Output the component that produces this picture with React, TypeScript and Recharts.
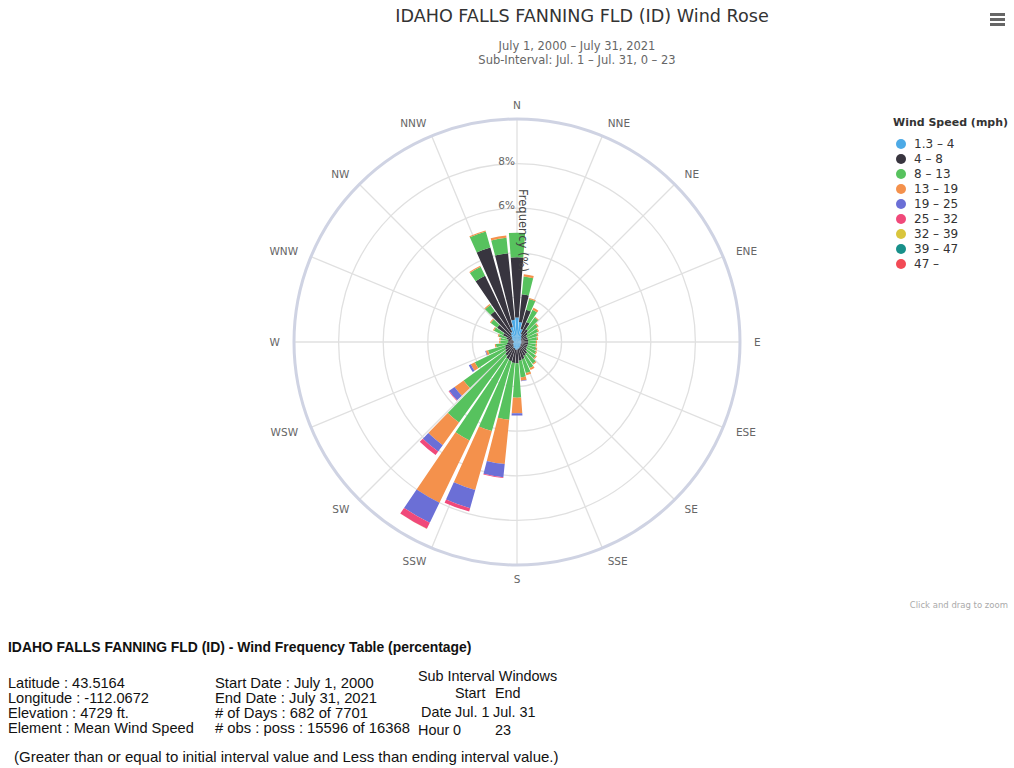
import { RadialBarChart, RadialBar, PolarGrid, PolarAngleAxis, PolarRadiusAxis, Legend } from 'recharts';

// wind directions (degrees), one bar each
const directions = [0, 10, 20, 30, 40, 50, 60, 70, 80, 90, 100, 110, 120, 130, 140, 150, 160, 170,
  180, 190, 200, 210, 220, 230, 240, 250, 260, 270, 280, 290, 300, 310, 320, 330, 340, 350];

const compassTicks = [0, 22.5, 45, 67.5, 90, 112.5, 135, 157.5, 180, 202.5, 225, 247.5, 270, 292.5, 315, 337.5];
const compassLabels = ['N', 'NNE', 'NE', 'ENE', 'E', 'ESE', 'SE', 'SSE', 'S', 'SSW', 'SW', 'WSW', 'W', 'WNW', 'NW', 'NNW'];

const radiusTicks = [0, 2, 4, 6, 8, 10];

const speedBins = ['1.3 – 4', '4 – 8', '8 – 13', '13 – 19', '19 – 25', '25 – 32', '32 – 39', '39 – 47', '47 –'];
const binColors = ['#4daae6', '#38353f', '#57c25e', '#f4914c', '#6b6fd6', '#f0497a', '#d9c53c', '#18908a', '#f24a55'];

// frequency (%) per direction, one array per speed bin
const spd1to4 = [1.1, 0.9, 0.6, 0.4, 0.3, 0.25, 0.2, 0.2, 0.2, 0.2, 0.2, 0.2, 0.2, 0.2, 0.25, 0.25, 0.3, 0.3,
  0.35, 0.35, 0.3, 0.3, 0.25, 0.2, 0.2, 0.2, 0.15, 0.15, 0.15, 0.2, 0.25, 0.3, 0.4, 0.5, 0.7, 1.0];
const spd4to8 = [2.7, 1.25, 0.9, 0.6, 0.4, 0.35, 0.3, 0.3, 0.3, 0.3, 0.3, 0.3, 0.3, 0.35, 0.4, 0.45, 0.5, 0.55,
  0.6, 0.6, 0.6, 0.55, 0.5, 0.45, 0.4, 0.35, 0.3, 0.25, 0.25, 0.3, 0.45, 0.8, 1.3, 2.8, 3.7, 3.0];
const spd8to13 = [1.1, 0.8, 0.5, 0.6, 0.65, 0.55, 0.55, 0.45, 0.4, 0.35, 0.35, 0.4, 0.45, 0.5, 0.55, 0.6, 0.65, 0.75,
  1.55, 2.55, 3.25, 4.05, 3.7, 2.3, 1.5, 0.8, 0.5, 0.35, 0.35, 0.35, 0.45, 0.35, 0.35, 0.45, 0.75, 0.7];
const spd13to19 = [0, 0.1, 0.05, 0.1, 0.05, 0.05, 0.05, 0.05, 0.05, 0.05, 0.05, 0.05, 0.05, 0.05, 0.05, 0.1, 0.1, 0.15,
  0.7, 2.0, 2.75, 3.1, 1.25, 0.5, 0.2, 0.1, 0.05, 0.05, 0.05, 0.05, 0.05, 0.05, 0.05, 0.05, 0.05, 0.1];
const spd19to25 = [0, 0, 0, 0, 0, 0, 0, 0, 0, 0, 0, 0, 0, 0, 0, 0, 0, 0.02,
  0.1, 0.6, 0.85, 1.0, 0.35, 0.3, 0.1, 0.03, 0, 0, 0, 0, 0, 0, 0, 0, 0, 0];
const spd25to32 = [0, 0, 0, 0, 0, 0, 0, 0, 0, 0, 0, 0, 0, 0, 0, 0, 0, 0,
  0, 0.03, 0.15, 0.3, 0.2, 0.03, 0, 0, 0, 0, 0, 0, 0, 0, 0, 0, 0, 0];
const spd32to39 = [0, 0, 0, 0, 0, 0, 0, 0, 0, 0, 0, 0, 0, 0, 0, 0, 0, 0,
  0, 0, 0, 0.01, 0, 0, 0, 0, 0, 0, 0, 0, 0, 0, 0, 0, 0, 0];
const spd39to47 = [0, 0, 0, 0, 0, 0, 0, 0, 0, 0, 0, 0, 0, 0, 0, 0, 0, 0,
  0, 0, 0, 0, 0, 0, 0, 0, 0, 0, 0, 0, 0, 0, 0, 0, 0, 0];
const spd47up = [0, 0, 0, 0, 0, 0, 0, 0, 0, 0, 0, 0, 0, 0, 0, 0, 0, 0,
  0, 0, 0, 0, 0, 0, 0, 0, 0, 0, 0, 0, 0, 0, 0, 0, 0, 0];

const seriesValues = [spd1to4, spd4to8, spd8to13, spd13to19, spd19to25, spd25to32, spd32to39, spd39to47, spd47up];

const data = directions.map((dir, i) => {
  const row: Record<string, number> = { dir };
  seriesValues.forEach((s, k) => { row[`b${k}`] = s[i]; });
  return row;
});

const chartFont = '"DejaVu Sans", sans-serif';
const tableFont = '"Liberation Sans", sans-serif';

function CompassTick(props: any) {
  const { x, y, payload, textAnchor } = props;
  const idx = compassTicks.indexOf(payload.value);
  return (
    <text x={x} y={y} dy="0.35em" textAnchor={textAnchor} fill="#666" fontSize={10.5} fontFamily={chartFont}>
      {compassLabels[idx]}
    </text>
  );
}

function PercentTick(props: any) {
  const { x, y, payload } = props;
  if (payload.value !== 6 && payload.value !== 8) return <g />;
  return (
    <text x={x - 2} y={y + 1} textAnchor="end" fill="#666" fontSize={10.5} fontFamily={chartFont}>
      {`${payload.value}%`}
    </text>
  );
}

function TitleTick(props: any) {
  const { x, y } = props;
  return (
    <text x={x + 2} y={y} textAnchor="middle" fill="#444" fontSize={11.5} fontFamily={chartFont}
      transform={`rotate(90, ${x + 2}, ${y})`}>
      Frequency (%)
    </text>
  );
}

function WindLegend() {
  return (
    <div style={{ fontFamily: chartFont, color: '#333', fontSize: 12 }}>
      <div style={{ fontWeight: 'bold', fontSize: 11, marginBottom: 7 }}>Wind Speed (mph)</div>
      {speedBins.map((b, i) => (
        <div key={b} style={{ display: 'flex', alignItems: 'center', height: 15, paddingLeft: 3 }}>
          <span style={{ width: 10, height: 10, borderRadius: 5, background: binColors[i], marginRight: 8 }} />
          <span>{b}</span>
        </div>
      ))}
    </div>
  );
}

export default function App() {
  return (
    <div style={{ position: 'absolute', left: 0, top: 0, width: 1014, height: 768, background: '#fff', overflow: 'hidden' }}>
      <div style={{ position: 'absolute', left: 332, top: 6, width: 500, textAlign: 'center', fontFamily: chartFont, fontSize: 17.6, color: '#333' }}>
        IDAHO FALLS FANNING FLD (ID) Wind Rose
      </div>
      <div style={{ position: 'absolute', left: 427, top: 39, width: 300, textAlign: 'center', fontFamily: chartFont, fontSize: 11.5, lineHeight: '14px', color: '#666' }}>
        <div>July 1, 2000 – July 31, 2021</div>
        <div>Sub-Interval: Jul. 1 – Jul. 31, 0 – 23</div>
      </div>
      <div style={{ position: 'absolute', left: 990, top: 13 }}>
        {[0, 1, 2].map((k) => (
          <div key={k} style={{ width: 15, height: 2.5, background: '#666', marginBottom: 2.5 }} />
        ))}
      </div>

      <div style={{ position: 'absolute', left: 0, top: 0 }}>
        <RadialBarChart
          width={1014}
          height={620}
          data={data}
          layout="centric"
          cx={517}
          cy={342}
          innerRadius={0}
          outerRadius={223}
          startAngle={90}
          endAngle={-270}
          barSize={8.5}
          margin={{ top: 0, right: 0, bottom: 0, left: 0 }}
        >
          <PolarGrid gridType="circle" stroke="#e0e0e0" strokeWidth={1.3} />
          <PolarAngleAxis
            dataKey="dir"
            type="number"
            domain={[0, 360]}
            ticks={compassTicks}
            tick={<CompassTick />}
            tickLine={false}
            tickSize={14}
            axisLineType="circle"
            axisLine={{ stroke: '#cfd3e3', strokeWidth: 3 }}
          />
          <PolarRadiusAxis
            type="number"
            domain={[0, 10]}
            ticks={radiusTicks}
            angle={90}
            axisLine={false}
            tickLine={false}
            tick={<PercentTick />}
          />
          {speedBins.map((b, i) => (
            <RadialBar
              key={b}
              dataKey={`b${i}`}
              name={b}
              stackId="wind"
              fill={binColors[i]}
              isAnimationActive={false}
            />
          ))}
          <PolarRadiusAxis
            radiusAxisId="title"
            type="number"
            domain={[0, 10]}
            allowDataOverflow
            ticks={[5]}
            angle={90}
            axisLine={false}
            tickLine={false}
            tick={<TitleTick />}
          />
          <Legend
            content={<WindLegend />}
            layout="vertical"
            align="right"
            verticalAlign="top"
            wrapperStyle={{ top: 116, left: 893, right: 'auto', width: 118 }}
          />
        </RadialBarChart>
      </div>

      <div style={{ position: 'absolute', right: 6, top: 600, fontFamily: chartFont, fontSize: 8.5, color: '#aaa' }}>
        Click and drag to zoom
      </div>

      <div style={{ position: 'absolute', left: 8, top: 639, fontFamily: tableFont, fontSize: 13.9, fontWeight: 'bold', color: '#111' }}>
        IDAHO FALLS FANNING FLD (ID) - Wind Frequency Table (percentage)
      </div>
      <div style={{ position: 'absolute', left: 8, top: 676, fontFamily: tableFont, fontSize: 14.6, lineHeight: '15px', color: '#111' }}>
        <div>Latitude : 43.5164</div>
        <div>Longitude : -112.0672</div>
        <div>Elevation : 4729 ft.</div>
        <div>Element : Mean Wind Speed</div>
      </div>
      <div style={{ position: 'absolute', left: 215, top: 676, fontFamily: tableFont, fontSize: 14.8, lineHeight: '15px', color: '#111' }}>
        <div>Start Date : July 1, 2000</div>
        <div>End Date : July 31, 2021</div>
        <div># of Days : 682 of 7701</div>
        <div># obs : poss : 15596 of 16368</div>
      </div>
      <div style={{ position: 'absolute', left: 418, top: 667, fontFamily: tableFont, fontSize: 14.4, lineHeight: '18px', color: '#111', width: 160, height: 80 }}>
        <div style={{ position: 'absolute', left: 0, top: 0 }}>Sub Interval Windows</div>
        <div style={{ position: 'absolute', left: 37, top: 17 }}>Start</div>
        <div style={{ position: 'absolute', left: 77, top: 17 }}>End</div>
        <div style={{ position: 'absolute', left: 3, top: 36 }}>Date</div>
        <div style={{ position: 'absolute', left: 37, top: 36 }}>Jul. 1</div>
        <div style={{ position: 'absolute', left: 75, top: 36 }}>Jul. 31</div>
        <div style={{ position: 'absolute', left: 0, top: 54 }}>Hour</div>
        <div style={{ position: 'absolute', left: 35, top: 54 }}>0</div>
        <div style={{ position: 'absolute', left: 77, top: 54 }}>23</div>
      </div>
      <div style={{ position: 'absolute', left: 14, top: 748, fontFamily: tableFont, fontSize: 15, color: '#111' }}>
        (Greater than or equal to initial interval value and Less than ending interval value.)
      </div>
    </div>
  );
}
